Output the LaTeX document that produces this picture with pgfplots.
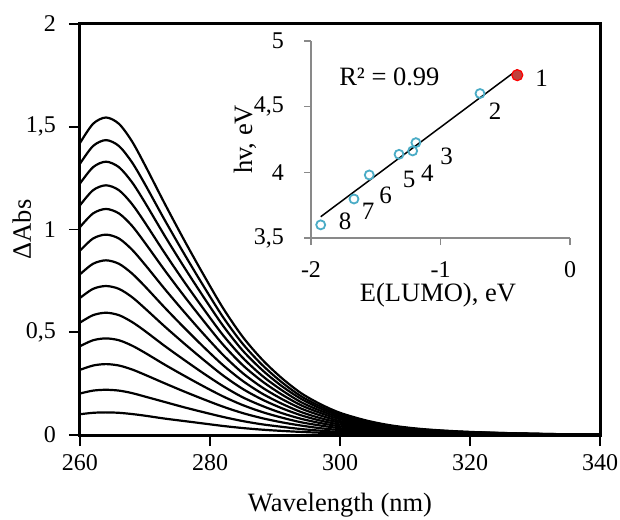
\documentclass[border=0pt]{standalone}
\usepackage{pgfplots}
\pgfplotsset{compat=1.18}
\usepackage{fontspec}
\setmainfont{Liberation Serif}

\definecolor{ptblue}{RGB}{75,172,198}
\definecolor{ptred}{RGB}{192,64,60}
\definecolor{axgray}{RGB}{137,137,137}

\begin{document}
\fontsize{24}{28}\selectfont
\begin{tikzpicture}
\path[use as bounding box] (-80pt,-84pt) rectangle (540pt,435pt);
% main spectra
\begin{axis}[
    name=main,
    at={(0pt,0pt)}, anchor=south west,
    scale only axis,
    width=520pt, height=411pt,
    xmin=260, xmax=340, ymin=0, ymax=2,
    xtick={260,280,...,340},
    ytick={0,0.5,...,2},
    /pgf/number format/assume math mode=true,
    /pgf/number format/use comma,
    tick align=outside,
    major tick length=11pt,
    tick style={black, line width=1.8pt},
    axis line style={line width=3pt},
    xtick pos=bottom, ytick pos=left,
    yticklabel style={xshift=-5pt},
    xlabel={Wavelength (nm)},
    ylabel={ΔAbs},
    label style={font=\fontsize{26.5}{30}\selectfont},
    xlabel style={at={(axis description cs:0.5,-0.17)}, anchor=center},
    ylabel style={at={(axis description cs:-0.112,0.5)}, anchor=center},
    every axis plot post/.append style={black, solid, line width=2.2pt, smooth, mark=none},
]
\addplot coordinates {(260,1.421)(262,1.514)(264,1.545)(266,1.514)(268,1.429)(270,1.313)(273,1.128)(276,0.950)(279,0.780)(282,0.618)(285,0.479)(288,0.368)(291,0.278)(294,0.204)(297,0.150)(300,0.108)(304,0.071)(308,0.046)(313,0.028)(320,0.015)(330,0.006)(340,0.002)};
\addplot coordinates {(260,1.320)(262,1.406)(264,1.435)(266,1.406)(268,1.327)(270,1.220)(273,1.048)(276,0.883)(279,0.725)(282,0.574)(285,0.445)(288,0.342)(291,0.258)(294,0.189)(297,0.139)(300,0.100)(304,0.066)(308,0.043)(313,0.026)(320,0.014)(330,0.006)(340,0.001)};
\addplot coordinates {(260,1.224)(262,1.303)(264,1.330)(266,1.303)(268,1.230)(270,1.131)(273,0.971)(276,0.818)(279,0.672)(282,0.532)(285,0.412)(288,0.317)(291,0.239)(294,0.176)(297,0.129)(300,0.093)(304,0.061)(308,0.040)(313,0.024)(320,0.013)(330,0.005)(340,0.001)};
\addplot coordinates {(260,1.118)(262,1.191)(264,1.215)(266,1.191)(268,1.124)(270,1.033)(273,0.887)(276,0.747)(279,0.614)(282,0.486)(285,0.377)(288,0.289)(291,0.219)(294,0.160)(297,0.118)(300,0.085)(304,0.056)(308,0.036)(313,0.022)(320,0.012)(330,0.005)(340,0.001)};
\addplot coordinates {(260,1.012)(262,1.078)(264,1.100)(266,1.078)(268,1.018)(270,0.935)(273,0.803)(276,0.677)(279,0.556)(282,0.440)(285,0.341)(288,0.262)(291,0.198)(294,0.145)(297,0.107)(300,0.077)(304,0.051)(308,0.033)(313,0.020)(320,0.011)(330,0.004)(340,0.001)};
\addplot coordinates {(260,0.897)(262,0.956)(264,0.975)(266,0.956)(268,0.902)(270,0.829)(273,0.712)(276,0.600)(279,0.492)(282,0.390)(285,0.302)(288,0.232)(291,0.176)(294,0.129)(297,0.095)(300,0.068)(304,0.045)(308,0.029)(313,0.018)(320,0.010)(330,0.004)(340,0.001)};
\addplot coordinates {(260,0.782)(262,0.833)(264,0.850)(266,0.833)(268,0.786)(270,0.723)(273,0.621)(276,0.523)(279,0.429)(282,0.340)(285,0.264)(288,0.202)(291,0.153)(294,0.112)(297,0.082)(300,0.060)(304,0.039)(308,0.026)(313,0.015)(320,0.009)(330,0.003)(340,0.001)};
\addplot coordinates {(260,0.667)(262,0.711)(264,0.725)(266,0.711)(268,0.671)(270,0.616)(273,0.529)(276,0.446)(279,0.366)(282,0.290)(285,0.225)(288,0.173)(291,0.131)(294,0.096)(297,0.070)(300,0.051)(304,0.033)(308,0.022)(313,0.013)(320,0.007)(330,0.003)(340,0.001)};
\addplot coordinates {(260,0.547)(262,0.583)(264,0.595)(266,0.583)(268,0.550)(270,0.506)(273,0.434)(276,0.366)(279,0.300)(282,0.238)(285,0.184)(288,0.142)(291,0.107)(294,0.079)(297,0.058)(300,0.042)(304,0.027)(308,0.018)(313,0.011)(320,0.006)(330,0.002)(340,0.001)};
\addplot coordinates {(260,0.432)(262,0.461)(264,0.470)(266,0.461)(268,0.435)(270,0.400)(273,0.343)(276,0.289)(279,0.237)(282,0.188)(285,0.146)(288,0.112)(291,0.085)(294,0.062)(297,0.046)(300,0.033)(304,0.022)(308,0.014)(313,0.008)(320,0.005)(330,0.002)(340,0.000)};
\addplot coordinates {(260,0.317)(262,0.338)(264,0.345)(266,0.338)(268,0.319)(270,0.293)(273,0.252)(276,0.212)(279,0.174)(282,0.138)(285,0.107)(288,0.082)(291,0.062)(294,0.046)(297,0.033)(300,0.024)(304,0.016)(308,0.010)(313,0.006)(320,0.003)(330,0.001)(340,0.000)};
\addplot coordinates {(260,0.202)(262,0.216)(264,0.220)(266,0.216)(268,0.204)(270,0.187)(273,0.161)(276,0.135)(279,0.111)(282,0.088)(285,0.068)(288,0.052)(291,0.040)(294,0.029)(297,0.021)(300,0.015)(304,0.010)(308,0.007)(313,0.004)(320,0.002)(330,0.001)(340,0.000)};
\addplot coordinates {(260,0.101)(262,0.108)(264,0.110)(266,0.108)(268,0.102)(270,0.094)(273,0.080)(276,0.068)(279,0.056)(282,0.044)(285,0.034)(288,0.026)(291,0.020)(294,0.015)(297,0.011)(300,0.008)(304,0.005)(308,0.003)(313,0.002)(320,0.001)(330,0.000)(340,0.000)};
\end{axis}

% inset: hv vs E(LUMO)
\begin{axis}[
    at={(231pt,197pt)}, anchor=south west,
    scale only axis,
    width=259pt, height=197pt,
    xmin=-2, xmax=0, ymin=3.5, ymax=5,
    xtick={-2,-1,0},
    ytick={3.5,4,4.5,5},
    /pgf/number format/assume math mode=true,
    /pgf/number format/use comma,
    axis x line*=bottom, axis y line*=left,
    axis line style={axgray, line width=1.2pt, -},
    tick align=outside,
    major tick length=7pt,
    tick style={axgray, line width=1.2pt},
    xticklabel style={yshift=-8pt},
    yticklabel style={xshift=-12pt},
    clip=false,
    xlabel={E(LUMO), eV},
    ylabel={hv, eV},
    label style={font=\fontsize{26.5}{30}\selectfont},
    xlabel style={at={(axis description cs:0.49,-0.29)}, anchor=center},
    ylabel style={at={(axis description cs:-0.255,0.5)}, anchor=center},
]
% linear fit
\addplot[black, line width=1.5pt] coordinates {(-1.925,3.662)(-0.407,4.780)};
\addplot[only marks, mark=o, mark size=4.5pt, ptblue, mark options={line width=1.8pt}] coordinates {
    (-0.695,4.60) (-1.19,4.226) (-1.215,4.163) (-1.32,4.137)
    (-1.55,3.98) (-1.668,3.797) (-1.925,3.60)
};
\addplot[only marks, mark=*, mark size=5.5pt, mark options={fill=ptred, draw=red, line width=1.2pt}] coordinates {(-0.407,4.74)};
\node[font=\fontsize{26.5}{30}\selectfont] at (axis cs:-1.395,4.729) {R² = 0.99};
\begin{scope}[every node/.style={font=\fontsize{25}{29}\selectfont}]
\node at (axis cs:-0.219,4.716) {1};
\node at (axis cs:-0.579,4.462) {2};
\node at (axis cs:-0.952,4.125) {3};
\node at (axis cs:-1.102,3.993) {4};
\node at (axis cs:-1.243,3.947) {5};
\node at (axis cs:-1.423,3.827) {6};
\node at (axis cs:-1.558,3.700) {7};
\node at (axis cs:-1.737,3.624) {8};
\end{scope}
\end{axis}
\end{tikzpicture}
\end{document}
